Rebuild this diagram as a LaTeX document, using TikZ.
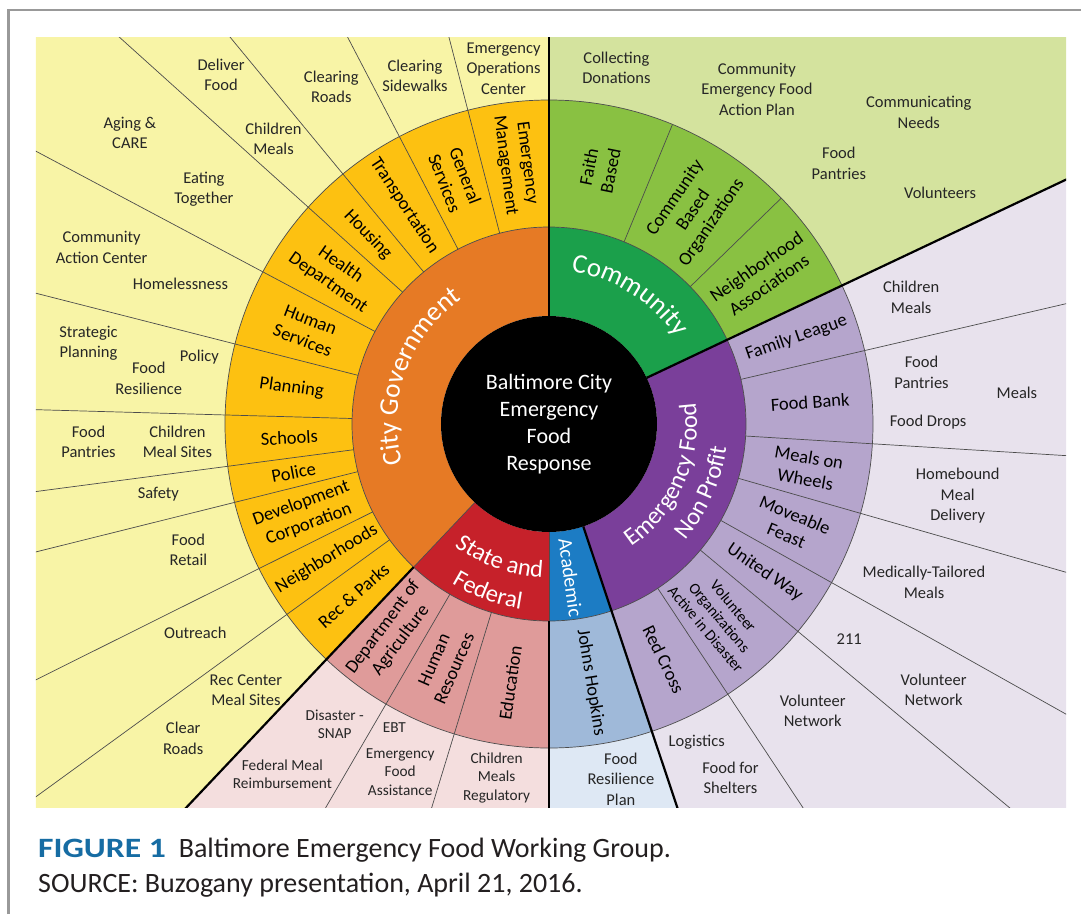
\documentclass[tikz,border=0pt]{standalone}
\usepackage{fontspec}
\setmainfont{Carlito}
\usepackage{graphicx}
\usetikzlibrary{decorations.text}

\definecolor{cgouter}{RGB}{248,244,166}
\definecolor{cgring}{RGB}{253,193,17}
\definecolor{cgmid}{RGB}{230,122,37}
\definecolor{comouter}{RGB}{212,227,158}
\definecolor{comring}{RGB}{137,193,66}
\definecolor{commid}{RGB}{27,160,75}
\definecolor{npouter}{RGB}{232,226,237}
\definecolor{npring}{RGB}{181,165,204}
\definecolor{npmid}{RGB}{122,63,154}
\definecolor{acouter}{RGB}{222,232,244}
\definecolor{acring}{RGB}{159,185,217}
\definecolor{acmid}{RGB}{28,124,196}
\definecolor{sfouter}{RGB}{244,222,222}
\definecolor{sfring}{RGB}{223,155,154}
\definecolor{sfmid}{RGB}{198,33,42}
\definecolor{figblue}{RGB}{22,108,163}
\definecolor{captext}{RGB}{35,31,32}

\newcommand{\midfont}{\fontsize{27}{30}\selectfont}
\newcommand{\npfont}{\fontsize{24.5}{28}\selectfont}

% fill a ring piece: colour, from angle, to angle, inner, outer radius
\newcommand{\ringsector}[5]{%
  \fill[#1] (#2:#4) arc[start angle=#2, end angle=#3, radius=#4]
    -- (#3:#5) arc[start angle=#3, end angle=#2, radius=#5] -- cycle;}

\tikzset{
  outtxt/.style={align=center, text=black!85, font=\fontsize{16.5}{20.5}\selectfont},
  smalltxt/.style={align=center, text=black!85, font=\fontsize{15.3}{18.5}\selectfont},
  ringtxt/.style={align=center, font=\fontsize{18.5}{22}\selectfont},
  divline/.style={draw=black!70, line width=0.7pt},
  mainline/.style={draw=black, line width=2.2pt},
}

\begin{document}
\begin{tikzpicture}[x=1pt, y=1pt]
  \useasboundingbox (-549,-490) rectangle (532,424);
  \draw[black!40, line width=2.5pt] (-540.5,-490) -- (-540.5,414) -- (532,414);

  \begin{scope}
    \clip (-513,-383) rectangle (517,387);
    % outer fields
    \ringsector{cgouter}{90}{226.6}{300pt}{800pt}
    \ringsector{sfouter}{226.6}{270}{300pt}{800pt}
    \ringsector{acouter}{270}{288.5}{300pt}{800pt}
    \ringsector{npouter}{-71.5}{25.3}{300pt}{800pt}
    \ringsector{comouter}{25.3}{90}{300pt}{800pt}
    % second ring
    \ringsector{cgring}{90}{226.6}{197pt}{324pt}
    \ringsector{sfring}{226.6}{270}{197pt}{324pt}
    \ringsector{acring}{270}{288.5}{197pt}{324pt}
    \ringsector{npring}{-71.5}{25.3}{197pt}{324pt}
    \ringsector{comring}{25.3}{90}{197pt}{324pt}
    % middle ring
    \ringsector{cgmid}{90}{226.6}{108pt}{197pt}
    \ringsector{sfmid}{226.6}{270}{108pt}{197pt}
    \ringsector{acmid}{270}{288.5}{108pt}{197pt}
    \ringsector{npmid}{-71.5}{25.3}{108pt}{197pt}
    \ringsector{commid}{25.3}{90}{108pt}{197pt}
    \fill[black] (0,0) circle[radius=108pt];

    % dividers
    \foreach \a in {104.5,117.5,129.5,138,152,165.7,178.4,187.5,194,206.5,216,
                    239.8,253,13.1,-3.5,-16,-29.3,-39.8,-56.5}
      \draw[divline] (\a:197pt) -- (\a:800pt);
    \foreach \a in {67.6,44.2}
      \draw[divline] (\a:197pt) -- (\a:324pt);
    \foreach \a in {226.6,-90}
      \draw[divline] (\a:108pt) -- (\a:197pt);
    \draw[divline] (0,0) circle[radius=197pt];
    \draw[divline] (0,0) circle[radius=324pt];
    \foreach \a in {90,25.3,-71.5}
      \draw[mainline] (\a:108pt) -- (\a:800pt);
    \foreach \a in {-90,226.6}
      \draw[mainline] (\a:197pt) -- (\a:800pt);
  \end{scope}

  % centre
  \node[align=center, text=white, font=\fontsize{22}{27}\selectfont] (hub) at (0,0)
    {Baltimore City\\Emergency\\Food\\Response};

  % middle ring
  \path[decorate, decoration={text along path, text align=center, text color=white,
      text={|\midfont|City Government}}]
    (212:152pt) arc[start angle=212, end angle=108, radius=152pt];
  \path[decorate, decoration={text along path, text align=center, text color=white,
      text={|\midfont|Community}}]
    (100:154pt) arc[start angle=100, end angle=16, radius=154pt];
  \path[decorate, decoration={text along path, text align=center, text color=white,
      text={|\npfont|Emergency Food}}]
    (-80:148pt) arc[start angle=-80, end angle=32, radius=148pt];
  \path[decorate, decoration={text along path, text align=center, text color=white,
      text={|\npfont|Non Profit}}]
    (-80:179pt) arc[start angle=-80, end angle=32, radius=179pt];
  \path[decorate, decoration={text along path, text align=center, text color=white,
      text={|\npfont|State and}}]
    (200:154pt) arc[start angle=200, end angle=300, radius=154pt];
  \path[decorate, decoration={text along path, text align=center, text color=white,
      text={|\npfont|Federal}}]
    (200:187pt) arc[start angle=200, end angle=300, radius=187pt];
  \node[text=white, font=\fontsize{20}{24}\selectfont, rotate=-82] (academic) at (-82:155pt) {Academic};

  % City Government ring
  \node[ringtxt, rotate=-82.75] (cg-ems) at (97.25:262pt) {Emergency\\Management};
  \node[ringtxt, rotate=-69] (cg-gs) at (111:262pt) {General\\Services};
  \node[ringtxt, rotate=-56.5] (cg-trans) at (123.5:262pt) {Transportation};
  \node[ringtxt, rotate=-46.25] (cg-hous) at (133.75:262pt) {Housing};
  \node[ringtxt, rotate=-35] (cg-health) at (145:262pt) {Health\\Department};
  \node[ringtxt, rotate=-21] (cg-hs) at (158.85:260pt) {Human\\Services};
  \node[ringtxt, rotate=-8] (cg-plan) at (172:260pt) {Planning};
  \node[ringtxt, rotate=3] (cg-sch) at (183:260pt) {Schools};
  \node[ringtxt, rotate=10.75] (cg-pol) at (190.75:260pt) {Police};
  \node[ringtxt, rotate=20.25] (cg-dev) at (200.25:260pt) {Development\\Corporation};
  \node[ringtxt, rotate=31.25] (cg-nbh) at (211.25:260pt) {Neighborhoods};
  \node[ringtxt, rotate=41.3] (cg-rec) at (221.3:260pt) {Rec \& Parks};

  % Community ring
  \node[ringtxt, rotate=78.8] (com-faith) at (78.8:260pt) {Faith\\Based};
  \node[ringtxt, rotate=55.9] (com-cbo) at (55.9:258pt) {Community\\Based\\Organizations};
  \node[ringtxt, rotate=34.75] (com-nbh) at (34.75:260pt) {Neighborhood\\Associations};

  % Emergency Food Non Profit ring
  \node[ringtxt, rotate=19.2] (np-fl) at (19.2:262pt) {Family League};
  \node[ringtxt, rotate=4] (np-fb) at (4.8:262pt) {Food Bank};
  \node[ringtxt, rotate=-9.75] (np-mow) at (-9.75:262pt) {Meals on\\Wheels};
  \node[ringtxt, rotate=-22.65] (np-mf) at (-22.65:262pt) {Moveable\\Feast};
  \node[ringtxt, rotate=-34.55] (np-uw) at (-34.55:262pt) {United Way};
  \node[ringtxt, rotate=-50, font=\fontsize{15.5}{18}\selectfont] (np-voad) at (-48.6:258pt)
    {Volunteer\\Organizations\\Active in Disaster};
  \node[ringtxt, rotate=-64] (np-rc) at (-64:262pt) {Red Cross};

  % Academic and State and Federal ring
  \node[ringtxt, rotate=-80.75] (ac-jh) at (-80.75:262pt) {Johns Hopkins};
  \node[ringtxt, rotate=53.2] (sf-doa) at (233.2:262pt) {Department of\\Agriculture};
  \node[ringtxt, rotate=66.4] (sf-hr) at (246.4:262pt) {Human\\Resources};
  \node[ringtxt, rotate=81.5] (sf-edu) at (261.5:262pt) {Education};

  % City Government outer field
  \node[outtxt] (cgo-eoc) at (-45.5,355.7) {Emergency\\Operations\\Center};
  \node[outtxt] (cgo-sidewalk) at (-134,348.3) {Clearing\\Sidewalks};
  \node[outtxt] (cgo-roads) at (-217.7,337.3) {Clearing\\Roads};
  \node[outtxt] (cgo-deliver) at (-327.9,349) {Deliver\\Food};
  \node[outtxt] (cgo-kids) at (-275.5,285) {Children\\Meals};
  \node[outtxt] (cgo-aging) at (-419.1,291.3) {Aging \&\\CARE};
  \node[outtxt] (cgo-eating) at (-345.1,234.7) {Eating\\Together};
  \node[outtxt] (cgo-cac) at (-447.4,176.7) {Community\\Action Center};
  \node[outtxt] (cgo-homeless) at (-368.5,139.7) {Homelessness};
  \node[outtxt] (cgo-strategic) at (-460.5,80.7) {Strategic\\Planning};
  \node[outtxt] (cgo-policy) at (-349.6,66.7) {Policy};
  \node[outtxt] (cgo-resil) at (-400.2,45.7) {Food\\Resilience};
  \node[outtxt] (cgo-pantries) at (-460.5,-17.7) {Food\\Pantries};
  \node[outtxt] (cgo-mealsites) at (-371.6,-17.7) {Children\\Meal Sites};
  \node[outtxt] (cgo-safety) at (-390.6,-70.3) {Safety};
  \node[outtxt] (cgo-retail) at (-360.6,-126) {Food\\Retail};
  \node[outtxt] (cgo-outreach) at (-353.7,-209.3) {Outreach};
  \node[outtxt] (cgo-reccenter) at (-303.1,-266) {Rec Center\\Meal Sites};
  \node[outtxt] (cgo-clear) at (-365.8,-314.3) {Clear\\Roads};

  % State and Federal, Academic outer field
  \node[smalltxt] (sfo-snap) at (-214.2,-300.3) {Disaster -\\SNAP};
  \node[smalltxt] (sfo-fmr) at (-266.6,-350) {Federal Meal\\Reimbursement};
  \node[smalltxt] (sfo-ebt) at (-154.7,-303.3) {EBT};
  \node[smalltxt] (sfo-efa) at (-148.8,-347.7) {Emergency\\Food\\Assistance};
  \node[smalltxt] (sfo-cmr) at (-52.4,-353.7) {Children\\Meals\\Regulatory};
  \node[outtxt] (aco-plan) at (71.9,-355) {Food\\Resilience\\Plan};

  % Community outer field
  \node[outtxt] (como-collect) at (67.4,356.3) {Collecting\\Donations};
  \node[outtxt] (como-plan) at (207.9,335) {Community\\Emergency Food\\Action Plan};
  \node[outtxt] (como-comm) at (369.8,311.7) {Communicating\\Needs};
  \node[outtxt] (como-pantries) at (289.9,260.7) {Food\\Pantries};
  \node[outtxt] (como-vol) at (391.1,230.7) {Volunteers};

  % Emergency Food Non Profit outer field
  \node[outtxt] (npo-kids) at (362.2,126.7) {Children\\Meals};
  \node[outtxt] (npo-pantries) at (372.5,51.7) {Food\\Pantries};
  \node[outtxt] (npo-meals) at (467.9,31.3) {Meals};
  \node[outtxt] (npo-drops) at (379.1,1.7) {Food Drops};
  \node[outtxt] (npo-homebound) at (408.7,-72) {Homebound\\Meal\\Delivery};
  \node[outtxt] (npo-tailored) at (375,-158.3) {Medically-Tailored\\Meals};
  \node[outtxt] (npo-211) at (300.2,-215) {211};
  \node[outtxt] (npo-volnet) at (384.6,-266) {Volunteer\\Network};
  \node[outtxt] (npo-volnet2) at (263.7,-286.7) {Volunteer\\Network};
  \node[outtxt] (npo-logistics) at (147.7,-318.7) {Logistics};
  \node[outtxt] (npo-shelters) at (181.4,-353.7) {Food for\\Shelters};

  % caption
  \node[anchor=base west, inner sep=0pt, text=figblue, font=\fontsize{28}{30}\selectfont\bfseries]
    (fighead) at (-511,-433) {\scalebox{1.2}[1]{FIGURE 1}};
  \node[anchor=base west, inner sep=0pt, text=captext, font=\fontsize{28}{30}\selectfont]
    (figtitle) at (-370.4,-433) {Baltimore Emergency Food Working Group.};
  \node[anchor=base west, inner sep=0pt, text=captext, font=\fontsize{28}{30}\selectfont]
    (figsource) at (-511,-468) {SOURCE: Buzogany presentation, April 21, 2016.};
\end{tikzpicture}
\end{document}
